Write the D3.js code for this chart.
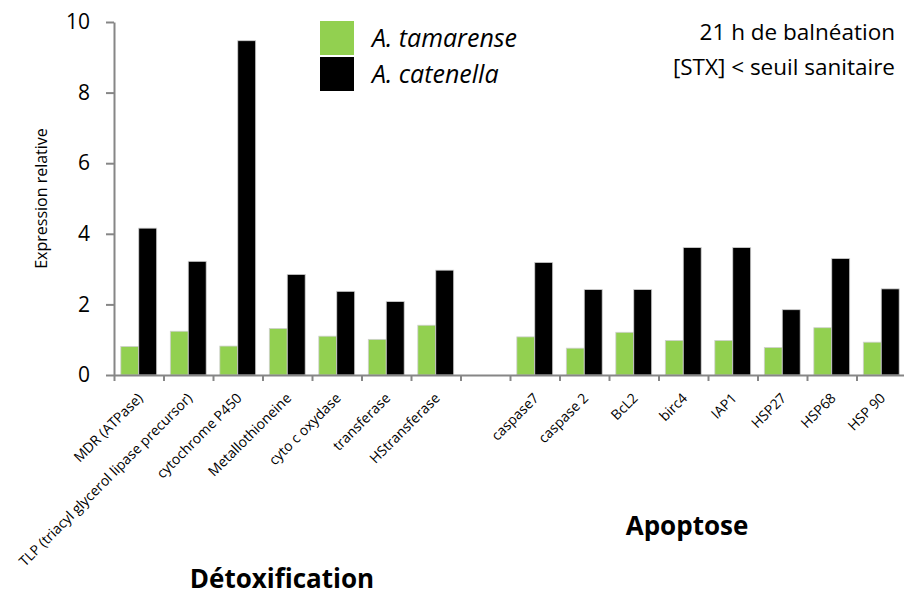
<!DOCTYPE html>
<html>
<head>
<meta charset="utf-8">
<script src="https://cdn.jsdelivr.net/npm/d3@7"></script>
<style>
  body { margin: 0; background: #fff; }
  svg { display: block; font-family: "Open Sans", "Liberation Sans", sans-serif; }
</style>
</head>
<body>
<div id="chart"></div>
<script>
// catégories (une case vide sépare les deux groupes)
const categories = ["MDR (ATPase)", "TLP (triacyl glycerol lipase precursor)", "cytochrome P450",
  "Metallothioneine", "cyto c oxydase", "transferase", "HStransferase", "",
  "caspase7", "caspase 2", "BcL2", "birc4", "IAP1", "HSP27", "HSP68", "HSP 90"];
const tamarense = [0.81, 1.24, 0.82, 1.32, 1.10, 1.01, 1.41, null,
  1.08, 0.76, 1.21, 0.98, 0.98, 0.78, 1.34, 0.93];
const catenella = [4.16, 3.22, 9.47, 2.85, 2.37, 2.08, 2.97, null,
  3.19, 2.42, 2.42, 3.61, 3.61, 1.85, 3.30, 2.44];
const series = ["A. tamarense", "A. catenella"];
const colors = ["#92d050", "#000000"];
const yTicks = [0, 2, 4, 6, 8, 10];

const width = 904, height = 596;
const margin = {left: 114, right: -2, top: 22, bottom: 221};
const font = "'Open Sans', sans-serif";

const svg = d3.select("#chart").append("svg")
  .attr("width", width)
  .attr("height", height);

const x = d3.scaleBand()
  .domain(categories)
  .range([margin.left, width - margin.right])
  .paddingInner(0)
  .paddingOuter(0);
const xSub = d3.scaleBand()
  .domain(series)
  .range([0, x.bandwidth()])
  .paddingInner(0)
  .paddingOuter(0.38);
const y = d3.scaleLinear()
  .domain([0, 10])
  .range([height - margin.bottom, margin.top]);

// barres
const rows = categories.map((c, i) => ({cat: c, vals: [tamarense[i], catenella[i]]}));
const groups = svg.selectAll(".grp")
  .data(rows.filter(r => r.cat !== ""))
  .enter().append("g")
  .attr("class", "grp")
  .attr("transform", d => "translate(" + x(d.cat) + ",0)");
groups.selectAll("rect")
  .data(d => d.vals.map((v, k) => ({s: series[k], v: v, k: k})))
  .enter().append("rect")
  .attr("x", d => xSub(d.s))
  .attr("width", xSub.bandwidth())
  .attr("y", d => y(d.v))
  .attr("height", d => y(0) - y(d.v))
  .attr("fill", d => colors[d.k])
  .attr("stroke", "#d0d0d0")
  .attr("stroke-width", 0.8);

// axe Y
const yAxis = svg.append("g")
  .attr("transform", "translate(" + margin.left + ",0)")
  .call(d3.axisLeft(y).tickValues(yTicks).tickSize(8).tickSizeOuter(0).tickPadding(16));
yAxis.select(".domain").attr("stroke", "#868686").attr("stroke-width", 2);
yAxis.selectAll(".tick line").attr("stroke", "#868686").attr("stroke-width", 2);
yAxis.selectAll(".tick text")
  .attr("font-size", 21)
  .attr("font-family", font)
  .attr("fill", "#000");

// axe X : graduations aux limites des catégories
const xEdges = d3.scaleLinear().domain([0, categories.length]).range(x.range());
const xAxis = svg.append("g")
  .attr("transform", "translate(0," + y(0) + ")")
  .call(d3.axisBottom(xEdges).tickValues(d3.range(categories.length + 1)).tickSize(6).tickSizeOuter(0).tickFormat(""));
xAxis.select(".domain").attr("stroke", "#868686").attr("stroke-width", 2);
xAxis.selectAll(".tick line").attr("stroke", "#868686").attr("stroke-width", 2);

// étiquettes X inclinées
const xLab = svg.append("g")
  .attr("transform", "translate(0," + y(0) + ")")
  .call(d3.axisBottom(x).tickSize(0).tickSizeOuter(0));
xLab.select(".domain").remove();
xLab.selectAll(".tick text")
  .attr("font-size", 14)
  .attr("font-family", font)
  .attr("fill", "#000")
  .attr("text-anchor", "end")
  .attr("dy", 0)
  .attr("y", 0)
  .attr("transform", "translate(5,24) rotate(-45)");

// titre axe Y
svg.append("text")
  .attr("transform", "translate(47," + (y(0) + y(10)) / 2 + ") rotate(-90)")
  .attr("text-anchor", "middle")
  .attr("font-size", 16)
  .text("Expression relative");

// légende
const legend = svg.append("g").attr("transform", "translate(320,21)");
series.forEach((s, i) => {
  legend.append("rect")
    .attr("x", 0).attr("y", i * 36)
    .attr("width", 34).attr("height", 34)
    .attr("fill", colors[i]);
  legend.append("text")
    .attr("x", 52).attr("y", i * 36 + 26)
    .attr("font-size", 25)
    .attr("font-style", "italic")
    .text(s);
});

// annotation
const note = ["21 h de balnéation", "[STX] < seuil sanitaire"];
svg.append("g").selectAll("text")
  .data(note)
  .enter().append("text")
  .attr("x", 895)
  .attr("y", (d, i) => 40 + i * 35)
  .attr("text-anchor", "end")
  .attr("font-size", 22.5)
  .text(d => d);

// groupes
svg.append("text")
  .attr("x", 282).attr("y", 588)
  .attr("text-anchor", "middle")
  .attr("font-size", 26).attr("font-weight", "bold")
  .text("Détoxification");
svg.append("text")
  .attr("x", 687).attr("y", 535)
  .attr("text-anchor", "middle")
  .attr("font-size", 26).attr("font-weight", "bold")
  .text("Apoptose");
</script>
</body>
</html>
